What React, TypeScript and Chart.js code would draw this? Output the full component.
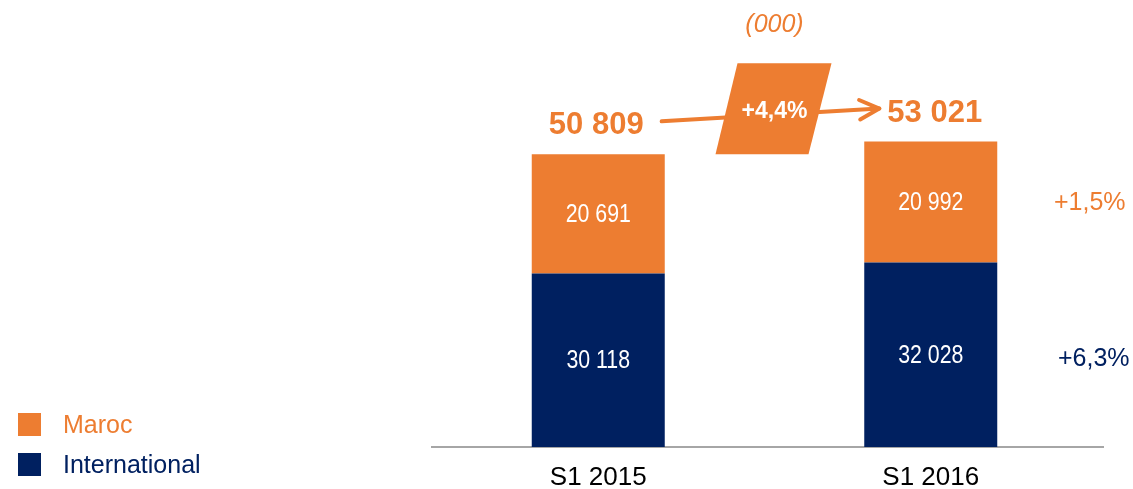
import React, { useEffect, useRef } from "react";
import { Chart, registerables } from "chart.js";

Chart.register(...registerables);

// ---- data ----
const categories = ["S1 2015", "S1 2016"];
const seriesNames = ["International", "Maroc"];
const international = [30118, 32028];
const maroc = [20691, 20992];
const totals = [50809, 53021];
const marocGrowth = "+1,5%";
const internationalGrowth = "+6,3%";
const totalGrowth = "+4,4%";
const unitLabel = "(000)";

// ---- styles ----
const ORANGE = "#ED7D31";
const NAVY = "#002060";
const AXIS = "#A6A6A6";
const FONT = "'Liberation Sans', Arial, sans-serif";

const fmt = (n: number) => String(n).replace(/\B(?=(\d{3})+(?!\d))/g, " ");

const annotations = {
  id: "annotations",
  beforeDatasetsDraw(chart: any) {
    // slight extension of the baseline to the right, like the original
    const ctx: CanvasRenderingContext2D = chart.ctx;
    const a = chart.chartArea;
    ctx.save();
    ctx.strokeStyle = AXIS;
    ctx.lineWidth = 2;
    ctx.beginPath();
    ctx.moveTo(a.right - 1, a.bottom);
    ctx.lineTo(a.right + 7, a.bottom);
    ctx.stroke();
    ctx.restore();
  },
  afterDatasetsDraw(chart: any) {
    const ctx: CanvasRenderingContext2D = chart.ctx;
    const metaInt = chart.getDatasetMeta(0);
    const metaMar = chart.getDatasetMeta(1);
    ctx.save();

    // values inside segments (narrow look)
    ctx.textAlign = "center";
    ctx.textBaseline = "middle";
    ctx.fillStyle = "#ffffff";
    ctx.font = `26px ${FONT}`;
    const sx = 0.82;
    [metaInt, metaMar].forEach((meta: any, di: number) => {
      meta.data.forEach((bar: any, i: number) => {
        const v = chart.data.datasets[di].data[i] as number;
        ctx.save();
        ctx.translate(bar.x, (bar.y + bar.base) / 2 + 1);
        ctx.scale(sx, 1);
        ctx.fillText(fmt(v), 0, 0);
        ctx.restore();
      });
    });

    const xs = metaMar.data.map((b: any) => b.x);
    const tops = metaMar.data.map((b: any) => b.y);

    // totals
    ctx.font = `bold 31px ${FONT}`;
    ctx.fillStyle = ORANGE;
    ctx.textBaseline = "alphabetic";
    const tx = [xs[0] - 2, xs[1] + 4];
    const widths = totals.map((t) => ctx.measureText(fmt(t)).width);
    totals.forEach((t, i) => ctx.fillText(fmt(t), tx[i], tops[i] - 20));

    // arrow
    const ax0 = tx[0] + widths[0] / 2 + 18;
    const ay0 = tops[0] - 20 - 13;
    const ax1 = tx[1] - widths[1] / 2 - 8;
    const ay1 = tops[1] - 20 - 13;
    ctx.strokeStyle = ORANGE;
    ctx.lineWidth = 4;
    ctx.lineCap = "round";
    ctx.lineJoin = "round";
    ctx.beginPath();
    ctx.moveTo(ax0, ay0);
    ctx.lineTo(ax1, ay1);
    ctx.stroke();
    const ang = Math.atan2(ay1 - ay0, ax1 - ax0);
    const hl = 22;
    const spread = 0.46;
    ctx.beginPath();
    ctx.moveTo(ax1 - hl * Math.cos(ang - spread), ay1 - hl * Math.sin(ang - spread));
    ctx.lineTo(ax1, ay1);
    ctx.lineTo(ax1 - hl * Math.cos(ang + spread), ay1 - hl * Math.sin(ang + spread));
    ctx.stroke();

    // parallelogram
    const cx = (xs[0] + xs[1]) / 2 + 9;
    const pBottom = tops[0];
    const pTop = pBottom - 91;
    ctx.fillStyle = ORANGE;
    ctx.beginPath();
    ctx.moveTo(cx - 36, pTop);
    ctx.lineTo(cx + 58, pTop);
    ctx.lineTo(cx + 35, pBottom);
    ctx.lineTo(cx - 58, pBottom);
    ctx.closePath();
    ctx.fill();
    ctx.fillStyle = "#ffffff";
    ctx.font = `bold 23px ${FONT}`;
    ctx.textBaseline = "middle";
    ctx.fillText(totalGrowth, cx + 1, (pTop + pBottom) / 2 + 3);

    // unit label
    ctx.fillStyle = ORANGE;
    ctx.font = `italic 25px ${FONT}`;
    ctx.fillText(unitLabel, cx + 1, 25);

    // growth labels at right
    ctx.font = `25px ${FONT}`;
    const b2m = metaMar.data[1];
    const b2i = metaInt.data[1];
    ctx.fillStyle = ORANGE;
    ctx.fillText(marocGrowth, xs[1] + 159, (b2m.y + b2m.base) / 2 + 1);
    ctx.fillStyle = NAVY;
    ctx.fillText(internationalGrowth, xs[1] + 163, (b2i.y + b2i.base) / 2 + 4);

    // legend (Maroc first)
    const legendItems = [
      { name: seriesNames[1], color: ORANGE, y: 413 },
      { name: seriesNames[0], color: NAVY, y: 453 },
    ];
    ctx.textAlign = "left";
    legendItems.forEach((it) => {
      ctx.fillStyle = it.color;
      ctx.fillRect(18, it.y, 23, 23);
      ctx.fillText(it.name, 63, it.y + 13);
    });

    ctx.restore();
  },
};

export default function App() {
  const ref = useRef<HTMLCanvasElement | null>(null);
  useEffect(() => {
    if (!ref.current) return;
    const chart = new Chart(ref.current, {
      type: "bar",
      data: {
        labels: categories,
        datasets: [
          { label: seriesNames[0], data: international, backgroundColor: NAVY, stack: "s" },
          { label: seriesNames[1], data: maroc, backgroundColor: ORANGE, stack: "s" },
        ],
      },
      options: {
        animation: false,
        responsive: true,
        maintainAspectRatio: false,
        layout: { padding: { left: 432, right: 36, top: 10, bottom: -18.8 } },
        plugins: { legend: { display: false }, tooltip: { enabled: false } },
        datasets: { bar: { categoryPercentage: 1, barPercentage: 0.4 } },
        scales: {
          x: {
            stacked: true,
            grid: { display: false, drawTicks: false },
            border: { display: true, color: AXIS, width: 2 },
            ticks: { color: "#000000", font: { family: FONT, size: 26, lineHeight: 0.8 }, padding: 20 },
          },
          y: { stacked: true, display: false, min: 0, max: 75863 },
        },
      },
      plugins: [annotations],
    } as any);
    return () => chart.destroy();
  }, []);
  return (
    <div style={{ position: "fixed", left: 0, top: 0, width: 1133, height: 489, background: "#fff" }}>
      <canvas ref={ref} />
    </div>
  );
}
